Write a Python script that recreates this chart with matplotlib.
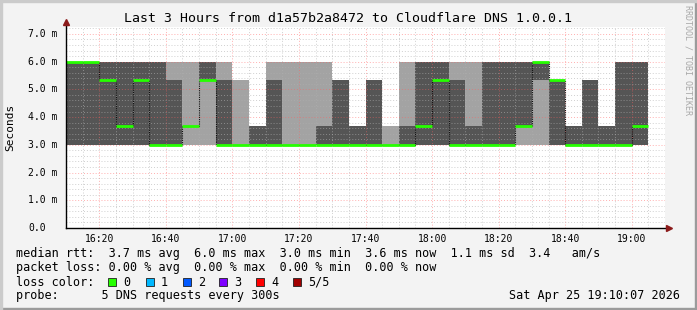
import datetime as dt
import matplotlib
matplotlib.use("Agg")
import matplotlib.pyplot as plt
import matplotlib.dates as mdates
from matplotlib.ticker import MultipleLocator
from matplotlib.patches import Rectangle

# 5 DNS pings per 5-minute bin, sorted (ms); median = ping3
start = dt.datetime(2026, 4, 25, 16, 10)
ping1 = [3.0] * 35
ping2 = [3.0, 3.0, 3.0, 3.0, 3.0, 3.0, 3.0, 3.667, 5.333, 3.0,
         3.0, 3.0, 3.0, 3.0, 3.0, 3.0, 3.0, 3.0, 3.0, 3.0,
         3.0, 3.0, 3.0, 3.0, 3.0, 3.0, 3.0, 3.667, 5.333, 3.0,
         3.0, 3.0, 3.0, 3.0, 3.0]
ping3 = [6.0, 6.0, 5.333, 3.667, 5.333, 3.0, 3.0, 3.667, 5.333, 3.0,
         3.0, 3.0, 3.0, 3.0, 3.0, 3.0, 3.0, 3.0, 3.0, 3.0,
         3.0, 3.667, 5.333, 3.0, 3.0, 3.0, 3.0, 3.667, 6.0, 5.333,
         3.0, 3.0, 3.0, 3.0, 3.667]
ping4 = [6.0, 6.0, 6.0, 6.0, 6.0, 6.0, 5.333, 3.667, 6.0, 5.333,
         3.0, 3.667, 5.333, 3.0, 3.0, 3.667, 5.333, 3.667, 5.333, 3.0,
         3.667, 6.0, 6.0, 5.333, 3.667, 6.0, 6.0, 6.0, 6.0, 5.333,
         3.667, 5.333, 3.667, 6.0, 6.0]
ping5 = [6.0, 6.0, 6.0, 6.0, 6.0, 6.0, 6.0, 6.0, 6.0, 6.0,
         5.333, 3.667, 6.0, 6.0, 6.0, 6.0, 5.333, 3.667, 5.333, 3.667,
         6.0, 6.0, 6.0, 6.0, 6.0, 6.0, 6.0, 6.0, 6.0, 5.333,
         3.667, 5.333, 3.667, 6.0, 6.0]

times = [start + dt.timedelta(minutes=5 * i) for i in range(len(ping3) + 1)]

loss_labels = ["0", "1", "2", "3", "4", "5/5"]
loss_colors = ["#26ff00", "#00b8ff", "#0059ff", "#7e00ff", "#ff0000", "#a10000"]

W, H = 697, 310
MONO = "DejaVu Sans Mono"


def fx(px):
    return px / W


def fy(py):
    return 1 - py / H


def ext(v):
    return v + [v[-1]]


fig = plt.figure(figsize=(W / 100, H / 100), dpi=100, facecolor="#f3f3f3")
# 3d-ish frame
fig.patches.append(Rectangle((0, 0), 1, fy(308), transform=fig.transFigure, color="#9b9b9b", zorder=0))
fig.patches.append(Rectangle((fx(695), 0), fx(2), 1, transform=fig.transFigure, color="#9b9b9b", zorder=0))
fig.patches.append(Rectangle((0, fy(2)), 1, fx(2) * W / H, transform=fig.transFigure, color="#cbcbcb", zorder=0))
fig.patches.append(Rectangle((0, 0), fx(2), 1, transform=fig.transFigure, color="#cbcbcb", zorder=0))

ax = fig.add_axes([fx(66), fy(228), fx(665 - 66), (228 - 27) / H])
ax.set_facecolor("white")

light, dark = "#a3a3a3", "#555555"
ax.fill_between(times, ext(ping1), ext(ping2), step="post", color=light, lw=0, zorder=1)
ax.fill_between(times, ext(ping2), ext(ping3), step="post", color=dark, lw=0, zorder=1)
ax.fill_between(times, ext(ping3), ext(ping4), step="post", color=dark, lw=0, zorder=1)
ax.fill_between(times, ext(ping4), ext(ping5), step="post", color=light, lw=0, zorder=1)

# median line: dark step plus green segments
ax.step(times, ext(ping3), where="post", color="#101010", lw=0.8, ls=(0, (1, 1)), zorder=3)
ax.hlines(ping3, times[:-1], times[1:], color=loss_colors[0], lw=2.0, zorder=4)

ax.set_xlim(start, start + dt.timedelta(hours=3))
ax.set_ylim(0, 7.25)

ax.xaxis.set_major_locator(mdates.MinuteLocator(byminute=[0, 20, 40]))
ax.xaxis.set_minor_locator(mdates.MinuteLocator(byminute=range(0, 60, 5)))
ax.xaxis.set_major_formatter(mdates.DateFormatter("%H:%M"))
ax.yaxis.set_major_locator(MultipleLocator(1))
ax.yaxis.set_minor_locator(MultipleLocator(0.2))
ax.set_axisbelow(False)
ax.grid(which="minor", color="#b0b0b0", alpha=0.6, lw=0.7, ls=(0, (1, 2)))
ax.grid(which="major", color="#ff6060", alpha=0.5, lw=0.7, ls=(0, (1, 2)))
ax.tick_params(which="both", length=0)
ax.tick_params(axis="x", labelsize=7, pad=4)
for lab in ax.get_xticklabels():
    lab.set_family(MONO)
ax.set_yticklabels([])
for v in range(8):
    txt = "%.1f m" % v if v else "0.0"
    ax.text(fx(28 - 66) * W / 599, v, txt, transform=ax.get_yaxis_transform(),
            ha="left", va="center", fontsize=7, family=MONO)

for s in ax.spines.values():
    s.set_visible(False)
ax.plot([0, 0], [0, 1.02], transform=ax.transAxes, color="black", lw=1, clip_on=False, zorder=5)
ax.plot([0, 1.005], [0, 0], transform=ax.transAxes, color="black", lw=1, clip_on=False, zorder=5)
ax.plot([0], [1.025], marker="^", ms=4, color="#8b1a1a", transform=ax.transAxes, clip_on=False, zorder=6)
ax.plot([1.007], [0], marker=">", ms=4, color="#8b1a1a", transform=ax.transAxes, clip_on=False, zorder=6)

fig.text(0.5, fy(19), "Last 3 Hours from d1a57b2a8472 to Cloudflare DNS 1.0.0.1",
         ha="center", va="center", fontsize=9.5, family=MONO)
fig.text(fx(10), fy(127), "Seconds", rotation=90, ha="center", va="center", fontsize=8, family=MONO)
fig.text(fx(688), fy(5), "RRDTOOL / TOBI OETIKER", rotation=270, ha="center", va="top",
         fontsize=6, family=MONO, color="#a8a8a8")

fs = 8.5
fig.text(fx(16), fy(254), "median rtt:  3.7 ms avg  6.0 ms max  3.0 ms min  3.6 ms now  1.1 ms sd  3.4   am/s",
         ha="left", va="center", fontsize=fs, family=MONO)
fig.text(fx(16), fy(268), "packet loss: 0.00 % avg  0.00 % max  0.00 % min  0.00 % now",
         ha="left", va="center", fontsize=fs, family=MONO)
fig.text(fx(16), fy(282), "loss color:", ha="left", va="center", fontsize=fs, family=MONO)
box_x = [108, 146, 183, 219, 256, 293]
for bx, lab, col in zip(box_x, loss_labels, loss_colors):
    fig.patches.append(Rectangle((fx(bx), fy(286)), fx(8), 8 / H, transform=fig.transFigure,
                                 facecolor=col, edgecolor="#202020", lw=0.6))
    fig.text(fx(bx + 15), fy(282), lab, ha="left", va="center", fontsize=fs, family=MONO)
fig.text(fx(16), fy(296), "probe:      5 DNS requests every 300s", ha="left", va="center",
         fontsize=fs, family=MONO)
fig.text(fx(680), fy(296), "Sat Apr 25 19:10:07 2026", ha="right", va="center", fontsize=fs, family=MONO)

fig.savefig("out.png", dpi=100, facecolor=fig.get_facecolor())
